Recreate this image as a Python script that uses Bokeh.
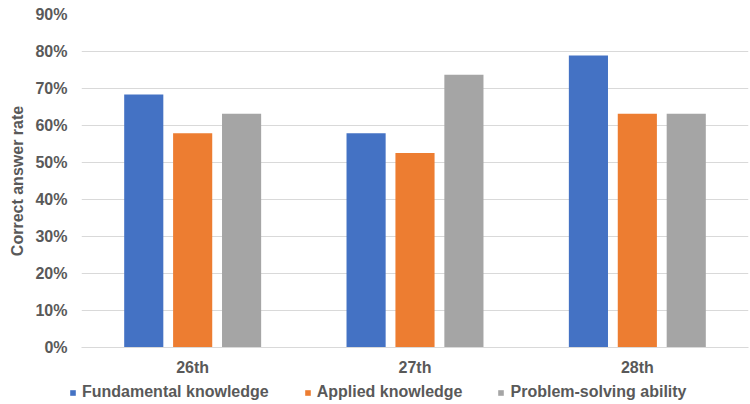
from bokeh.plotting import figure
from bokeh.layouts import column, row
from bokeh.models import ColumnDataSource, Legend, LegendItem, NumeralTickFormatter, FixedTicker
from bokeh.transform import dodge
from bokeh.embed import file_html
from bokeh.resources import INLINE

sessions = ["26th", "27th", "28th"]
fundamental = [0.684, 0.579, 0.789]
applied = [0.579, 0.526, 0.632]
problem_solving = [0.632, 0.737, 0.632]
series_names = ["Fundamental knowledge", "Applied knowledge", "Problem-solving ability"]
colors = ["#4472C4", "#ED7D31", "#A5A5A5"]

src = ColumnDataSource(dict(x=sessions, f=fundamental, a=applied, p=problem_solving))

FONT = "Liberation Sans"
TXT = "#595959"

# Main bar chart
p = figure(x_range=sessions, y_range=(0, 0.9), width=750, height=380,
           output_backend="svg", toolbar_location=None,
           min_border_left=81, min_border_right=2, min_border_top=14, min_border_bottom=33)
p.outline_line_color = None

bw = 0.176
offs = [-0.22, 0.0, 0.22]
for col, off, c in zip(["f", "a", "p"], offs, colors):
    p.vbar(x=dodge("x", off, range=p.x_range), top=col, width=bw, source=src,
           fill_color=c, line_color=None)

p.yaxis.ticker = FixedTicker(ticks=[i / 10 for i in range(10)])
p.yaxis.formatter = NumeralTickFormatter(format="0%")
p.yaxis.axis_label = "Correct answer rate"
for ax in (p.xaxis, p.yaxis):
    ax.major_label_text_font = FONT
    ax.major_label_text_font_style = "bold"
    ax.major_label_text_color = TXT
    ax.major_label_text_font_size = "16px"
    ax.major_tick_line_color = None
    ax.minor_tick_line_color = None
p.yaxis.axis_line_color = None
p.xaxis.axis_line_color = "#D9D9D9"
p.yaxis.axis_label_text_font = FONT
p.yaxis.axis_label_text_font_style = "bold"
p.yaxis.axis_label_text_color = TXT
p.yaxis.axis_label_text_font_size = "16px"
p.yaxis.axis_label_standoff = 6
p.yaxis.major_label_standoff = 8
p.xaxis.major_label_standoff = 5
p.xgrid.grid_line_color = None
p.ygrid.grid_line_color = "#D9D9D9"

# Legend strip underneath the chart; swatch bars sit outside the visible range
leg = figure(width=750, height=24, output_backend="svg", toolbar_location=None,
             min_border=0, min_border_left=0, min_border_right=0,
             min_border_top=0, min_border_bottom=0,
             x_range=(0, 1), y_range=(0, 1))
leg.outline_line_color = None
leg.xaxis.visible = False
leg.yaxis.visible = False
leg.grid.grid_line_color = None
swatches = [leg.vbar(x=[5], top=[1], width=0.1, fill_color=c, line_color=None) for c in colors]

legend = Legend(items=[LegendItem(label=n, renderers=[r]) for n, r in zip(series_names, swatches)],
                orientation="horizontal", location=(69, 3),
                label_text_font=FONT, label_text_font_style="bold",
                label_text_color=TXT, label_text_font_size="16px",
                glyph_width=7, glyph_height=7, label_standoff=6, spacing=35,
                border_line_color=None, background_fill_alpha=0,
                padding=0, margin=0)
leg.add_layout(legend)

open("out.html", "w").write(file_html(column(p, row(leg), spacing=0), INLINE))
